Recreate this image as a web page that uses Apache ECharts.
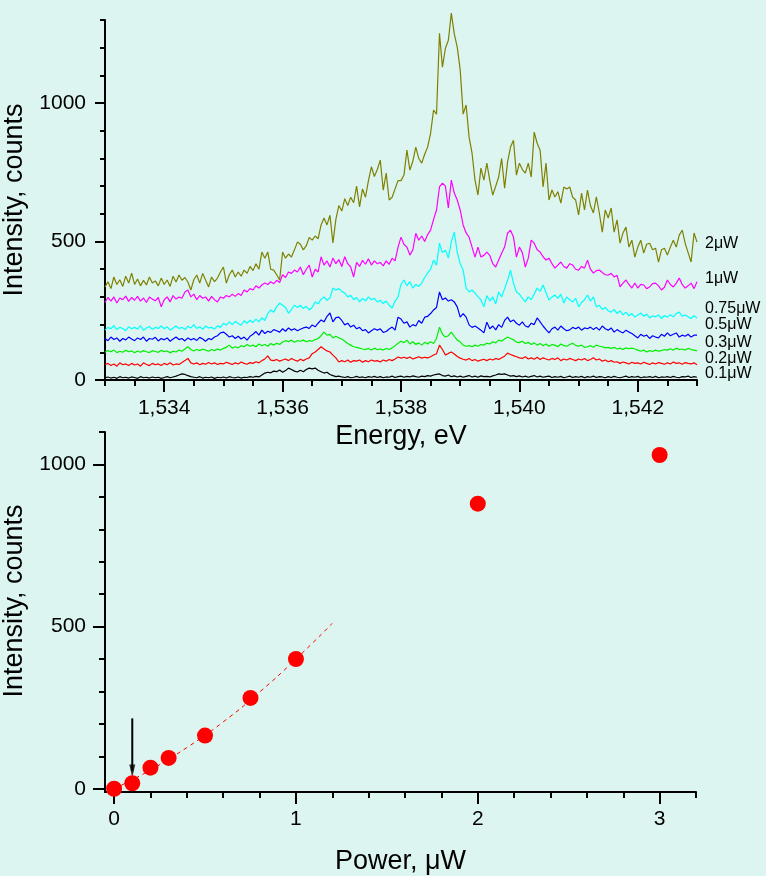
<!DOCTYPE html>
<html>
<head>
<meta charset="utf-8">
<script src="https://cdn.jsdelivr.net/npm/echarts@6/dist/echarts.min.js"></script>
<style>
  html, body { margin: 0; padding: 0; background: #ddf5f1; }
  #chart { width: 766px; height: 876px; }
</style>
</head>
<body>
<div id="chart"></div>
<script>
// Spectrometer grid: 1.5330 .. 1.5430 eV in 0.05 meV steps
const energyStart = 1.533, energyStep = 0.00005, energyCount = 201;
const energyGrid = [];
for (let i = 0; i < energyCount; i++) energyGrid.push(+(energyStart + i * energyStep).toFixed(5));

// PL intensity (counts) for each excitation power
const spec2uW = [
  336,355,330,372,345,362,338,375,350,386, 345,365,340,360,343,372,350,358,340,368,
  345,361,338,375,354,379,360,370,354,325, 362,379,350,385,360,336,372,355,368,390,
  408,350,380,397,372,390,375,397,385,410, 395,420,400,462,440,462,400,397,380,361,
  462,440,455,444,470,498,490,470,485,515, 505,520,510,560,585,560,595,495,580,630,
  610,655,630,660,640,700,625,690,660,720, 770,735,760,794,686,747,650,660,690,720,
  720,740,830,758,790,841,800,783,815,841, 891,975,960,1252,1130,1198,1227,1325,1250,1202,
  1120,960,993,877,819,722,668,765,722,783, 720,668,700,733,800,693,787,841,866,740,
  783,760,747,783,733,895,855,830,697,783, 650,686,661,680,639,697,690,697,660,650,
  596,675,614,686,630,603,661,603,534,614, 585,621,534,578,494,531,552,480,505,444,
  480,505,458,490,494,470,476,426,470,476, 451,480,505,480,523,541,494,460,426,531, 498];
const spec1uW = [
  280,298,285,300,278,296,290,303,284,298, 288,302,285,296,280,300,292,286,298,264,
  290,300,282,305,292,300,295,318,325,300, 310,290,305,295,300,285,302,290,282,300,
  295,305,300,310,302,312,305,325,318,330, 325,340,332,343,350,345,355,348,360,352,
  380,370,390,385,397,390,408,380,400,415, 372,400,390,445,415,430,408,440,420,435,
  410,445,420,408,372,425,410,432,418,438, 415,430,420,425,412,430,418,440,430,480,
  516,490,480,451,470,530,505,520,500,525, 541,580,614,697,711,700,621,722,675,650,
  614,560,531,516,480,444,480,444,450,462, 450,420,408,433,458,480,530,541,516,444,
  480,460,408,440,505,494,470,462,445,433, 440,420,404,415,426,410,404,420,415,400,
  397,410,404,433,400,386,395,397,388,380, 379,385,372,378,336,350,361,345,332,350,
  332,345,343,330,336,348,350,340,325,335, 361,345,336,350,368,345,332,340,350,330, 355];
const spec075uW = [
  180,190,185,196,182,190,186,178,192,185, 190,184,196,180,188,193,183,190,186,195,
  185,192,180,188,195,186,190,182,194,188, 200,186,192,183,195,188,190,184,196,190,
  205,198,210,200,212,204,198,214,205,216, 208,220,210,225,215,240,253,245,265,278,
  270,262,241,255,270,262,270,258,266,253, 262,282,275,292,300,288,296,332,325,330,
  320,314,300,306,290,298,282,295,286,300, 290,295,282,288,276,285,270,260,285,300,
  345,361,340,355,332,345,338,350,370,386, 400,433,415,494,460,469,440,500,534,462,
  420,397,332,318,325,314,300,290,264,305, 285,300,275,318,300,330,360,397,350,318,
  310,295,282,300,290,310,332,320,343,315, 289,300,307,295,310,278,300,290,282,295,
  264,280,290,307,285,300,264,270,255,262, 250,245,255,240,250,235,245,232,240,227,
  235,242,230,238,224,232,228,235,222,233, 227,236,228,240,245,230,235,228,222,232, 224];
const spec05uW = [
  150,142,155,146,152,140,150,145,155,148, 142,152,146,155,140,150,147,154,141,150,
  145,152,140,148,155,146,150,141,152,145, 150,143,154,148,140,150,146,155,160,170,
  173,165,155,160,150,158,148,155,144,158, 165,175,162,180,168,176,172,182,178,173,
  185,176,188,180,185,178,183,188,191,186, 199,192,205,217,210,230,242,210,225,227,
  215,199,205,191,198,185,190,178,182,170, 178,185,180,185,172,175,184,191,180,227,
  220,205,210,191,200,195,215,205,227,230, 240,253,262,318,290,296,285,290,282,264,
  227,240,227,199,190,195,188,180,170,209, 185,195,181,200,190,215,227,210,217,205,
  198,210,195,191,205,200,224,210,195,182, 170,185,191,180,195,185,178,181,190,185,
  191,180,188,185,191,182,190,180,195,185, 180,188,173,182,175,170,180,173,168,160,
  152,165,158,162,150,160,155,152,165,158, 170,160,165,170,155,162,158,165,155,162, 162];
const spec03uW = [
  100,106,102,108,99,104,100,107,102,105, 98,105,100,106,102,99,106,103,100,107,
  102,105,98,104,101,108,104,112,120,110, 105,110,106,112,108,104,110,106,112,108,
  114,118,126,115,120,116,124,120,128,122, 126,120,130,124,128,122,132,126,133,128,
  137,142,138,144,136,142,140,144,138,142, 140,146,150,160,173,162,165,152,158,152,
  148,140,132,126,120,118,115,112,110,114, 108,115,110,112,108,114,110,116,124,133,
  140,135,144,130,138,128,134,126,136,130, 138,132,150,191,165,155,160,173,158,144,
  138,126,122,124,120,126,122,128,126,133, 130,138,134,144,140,148,155,150,145,137,
  135,140,132,136,128,134,126,132,124,130, 122,128,126,120,130,124,122,128,133,125,
  122,126,118,120,124,118,126,122,120,116, 118,114,118,112,115,110,116,113,115,112,
  108,104,108,101,106,103,108,104,106,110, 108,113,108,115,110,112,108,114,110,108, 105];
const spec02uW = [
  55,60,52,58,50,62,55,58,52,60, 54,58,50,62,56,52,60,55,58,52,
  60,55,62,54,58,56,63,70,78,62, 58,62,55,60,57,63,58,62,56,60,
  58,64,60,56,62,58,65,60,57,63, 60,66,62,70,76,87,72,70,74,68,
  72,76,70,78,72,68,75,70,76,80, 95,101,110,120,112,105,101,90,80,65,
  70,66,72,64,70,68,72,64,70,66, 72,68,70,65,72,68,74,70,76,83,
  79,82,78,83,76,80,84,79,82,80, 84,90,95,126,110,90,96,101,94,85,
  79,75,72,78,70,74,68,72,75,70, 76,72,78,74,80,86,97,92,88,84,
  80,78,84,76,80,75,82,74,80,76, 72,78,74,80,70,76,72,78,74,70,
  76,72,78,70,74,80,72,76,68,72, 66,70,64,66,60,65,62,58,64,60,
  62,58,64,60,56,62,58,63,60,57, 62,58,65,60,62,57,63,60,58,62, 55];
const spec01uW = [
  8,11,7,10,6,12,8,10,7,11, 9,6,12,8,10,7,11,8,10,6,
  9,12,8,11,14,18,22,20,16,12, 10,8,12,7,10,8,11,6,10,8,
  11,7,12,9,8,11,7,10,9,12, 10,13,11,18,25,28,26,32,30,36,
  28,34,43,38,32,29,35,30,38,43, 40,43,35,30,25,28,20,16,12,14,
  11,9,12,8,10,13,9,11,8,12, 10,13,9,12,8,11,10,14,9,12,
  14,10,13,11,15,12,10,14,12,16, 14,18,20,22,16,14,18,12,15,11,
  14,10,13,16,11,14,10,15,12,13, 11,15,18,22,20,22,18,14,16,12,
  15,11,14,10,13,16,11,14,10,12, 14,9,12,10,13,8,11,14,9,12,
  10,13,8,12,10,14,9,12,11,8, 12,9,13,10,8,11,14,9,12,10,
  13,8,11,10,12,9,13,8,11,10, 12,9,13,10,8,12,11,14,9,12, 10];

const spectraNames = ['2\u03bcW','1\u03bcW','0.75\u03bcW','0.5\u03bcW','0.3\u03bcW','0.2\u03bcW','0.1\u03bcW'];
const spectraValues = [spec2uW, spec1uW, spec075uW, spec05uW, spec03uW, spec02uW, spec01uW];
const spectraColors = ['#808000','#ff00ff','#00ffff','#0000ff','#00ee00','#ff0000','#000000'];
// vertical centre of each curve's tag at the right edge
const tagCentres = [245, 280, 310, 326, 344, 360, 375];

// Integrated intensity vs excitation power
const power = [0, 0.1, 0.2, 0.3, 0.5, 0.75, 1, 2, 3];
const intensity = [0, 17, 65, 95, 164, 280, 400, 879, 1029];
// Fitted curve through the low-power points
const fitPower = [0, 0.2, 0.4, 0.6, 0.8, 1.0, 1.2];
const fitIntensity = [0, 58, 127, 206, 298, 400, 510];
// Arrow marking the 0.1 uW point
const arrowPower = 0.1, arrowFrom = 217, arrowHeadAt = 55;

// Tick positions
const energyMajor = [1.534, 1.536, 1.538, 1.540, 1.542];
const energyMinor = [];
for (let i = 0; i <= 20; i++) energyMinor.push(+(1.533 + i * 0.0005).toFixed(4));
const specIntMajor = [0, 500, 1000];
const specIntMinor = [0,100,200,300,400,500,600,700,800,900,1000,1100,1200,1300];
const powerMajor = [0, 1, 2, 3];
const powerMinor = [0,0.2,0.4,0.6,0.8,1,1.2,1.4,1.6,1.8,2,2.2,2.4,2.6,2.8,3,3.2];
const intMajor = [0, 500, 1000];
const intMinor = [0,100,200,300,400,500,600,700,800,900,1000,1100];

const FONT = '"Liberation Sans", Arial, sans-serif';
const black = '#000';
const plain = v => String(v);

function mainAxis(o) {
  return Object.assign({
    type: 'value',
    splitLine: { show: false },
    axisLine: { show: true, onZero: false, lineStyle: { color: black, width: 2 } },
    nameLocation: 'middle',
    nameTextStyle: { color: black, fontSize: 27, fontFamily: FONT }
  }, o);
}
function minorAxis(o) {
  return Object.assign({
    type: 'value',
    splitLine: { show: false },
    axisLine: { show: false, onZero: false },
    axisLabel: { show: false }
  }, o);
}
function ticks(values, len) {
  return { show: true, inside: false, length: len, customValues: values, lineStyle: { color: black, width: 2 } };
}
function labels(values, margin, fmt) {
  return { show: true, color: black, fontSize: 21, fontFamily: FONT, margin: margin, customValues: values, formatter: fmt };
}

const xAxis = [
  mainAxis({ gridIndex: 0, position: 'bottom', min: 1.533, max: 1.543, name: 'Energy, eV', nameGap: 43,
    axisTick: ticks(energyMajor, 12),
    axisLabel: labels(energyMajor, 18, v => v.toFixed(3).replace('.', ',')) }),
  minorAxis({ gridIndex: 0, position: 'bottom', min: 1.533, max: 1.543, axisTick: ticks(energyMinor, 6) }),
  mainAxis({ gridIndex: 1, position: 'bottom', min: -0.05, max: 3.2, name: 'Power, \u03bcW', nameGap: 56,
    axisTick: ticks(powerMajor, 12),
    axisLabel: labels(powerMajor, 17, plain) }),
  minorAxis({ gridIndex: 1, position: 'bottom', min: -0.05, max: 3.2, axisTick: ticks(powerMinor, 6) })
];
const yAxis = [
  mainAxis({ gridIndex: 0, position: 'left', min: 0, max: 1300, name: 'Intensity, counts', nameGap: 68,
    axisTick: ticks(specIntMajor, 10),
    axisLabel: labels(specIntMajor, 19, plain) }),
  minorAxis({ gridIndex: 0, position: 'left', min: 0, max: 1300, axisTick: ticks(specIntMinor, 5) }),
  mainAxis({ gridIndex: 1, position: 'left', min: -10, max: 1100, name: 'Intensity, counts', nameGap: 68,
    nameTextStyle: { color: black, fontSize: 27, fontFamily: FONT, padding: [0, 0, 0, 22] },
    axisTick: ticks(intMajor, 12),
    axisLabel: labels(intMajor, 19, plain) }),
  minorAxis({ gridIndex: 1, position: 'left', min: -10, max: 1100, axisTick: ticks(intMinor, 6) })
];

const series = [];
spectraValues.forEach((vals, s) => {
  series.push({
    name: spectraNames[s], type: 'line', xAxisIndex: 0, yAxisIndex: 0,
    data: energyGrid.map((e, i) => [e, vals[i]]),
    showSymbol: false, clip: false,
    lineStyle: { color: spectraColors[s], width: 1.2 },
    z: 10 - s
  });
});
series.push({
  name: 'fit', type: 'line', xAxisIndex: 2, yAxisIndex: 2,
  data: fitPower.map((p, i) => [p, fitIntensity[i]]),
  smooth: true, showSymbol: false,
  lineStyle: { color: '#ff0000', width: 1, type: [4, 4] }
});
series.push({
  name: 'arrow', type: 'line', xAxisIndex: 2, yAxisIndex: 2,
  data: [[arrowPower, arrowFrom], [arrowPower, arrowHeadAt]],
  showSymbol: false, lineStyle: { color: black, width: 2 }, z: 3
});
series.push({
  name: 'arrowHead', type: 'scatter', xAxisIndex: 2, yAxisIndex: 2,
  data: [[arrowPower, arrowHeadAt]], symbol: 'triangle', symbolRotate: 180, symbolSize: [6, 13],
  itemStyle: { color: black }, z: 3
});
series.push({
  name: 'intensity', type: 'scatter', xAxisIndex: 2, yAxisIndex: 2,
  data: power.map((p, i) => [p, intensity[i]]),
  symbol: 'circle', symbolSize: 16, itemStyle: { color: '#ff0000', opacity: 1 }, z: 5, clip: false
});

const graphic = spectraNames.map((t, i) => ({
  type: 'text', left: 705, top: tagCentres[i] - 9,
  style: { text: t, fill: black, fontSize: 16, fontFamily: FONT }
}));

const chart = echarts.init(document.getElementById('chart'), null, { renderer: 'canvas' });
chart.setOption({
  backgroundColor: '#ddf5f1',
  animation: false,
  textStyle: { fontFamily: FONT },
  grid: [
    { left: 105, right: 69, top: 20, bottom: 496, outerBoundsMode: 'none', containLabel: false },
    { left: 105, right: 70, top: 432, bottom: 84, outerBoundsMode: 'none', containLabel: false }
  ],
  xAxis, yAxis, series, graphic
});
</script>
</body>
</html>
